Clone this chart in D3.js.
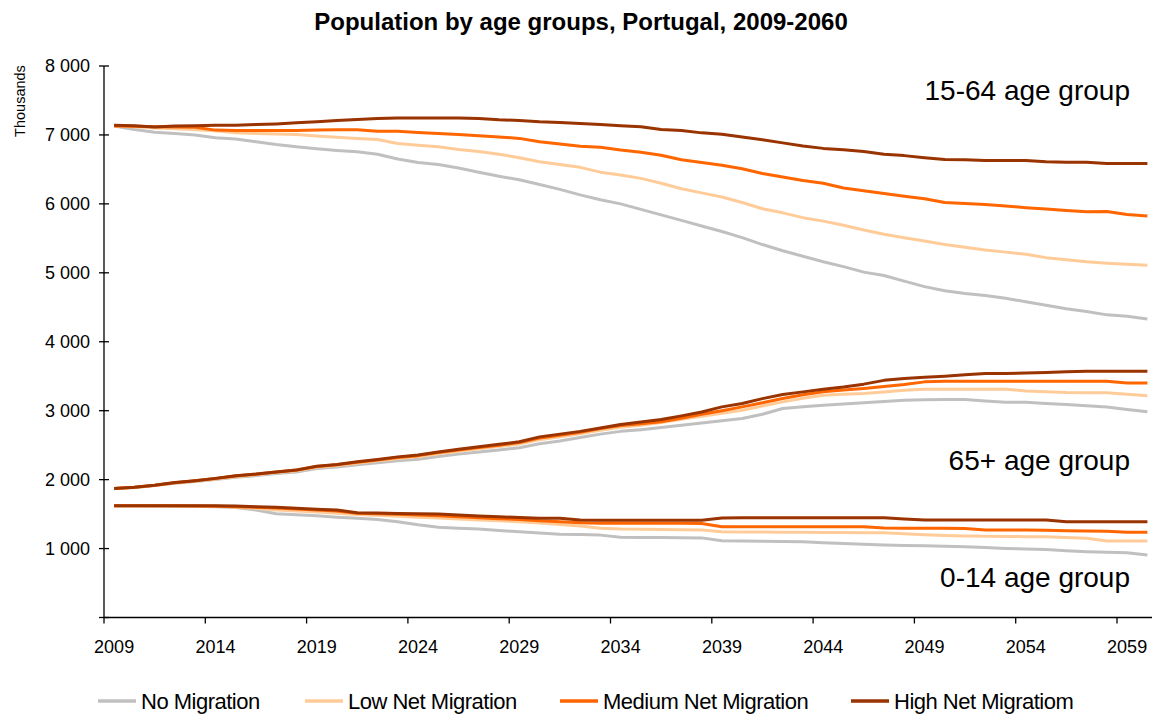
<!DOCTYPE html>
<html>
<head>
<meta charset="utf-8">
<script src="https://cdn.jsdelivr.net/npm/d3@7"></script>
<style>
  html, body { margin: 0; padding: 0; background: #fff; }
  svg { display: block; font-family: "Liberation Sans", Arial, sans-serif; }
</style>
</head>
<body>
<svg id="chart" width="1152" height="716"></svg>
<script>
// Projection years
const years = d3.range(2009, 2061);

// Scenarios (legend order) and their colours
const scenarios = ["No Migration", "Low Net Migration", "Medium Net Migration", "High Net Migratiom"];
const scenarioColors = ["#c0c0c0", "#ffcc99", "#ff6600", "#993300"];

// Age-group labels
const groupLabels = ["15-64 age group", "65+ age group", "0-14 age group"];

// Y-axis ticks (thousands)
const yTicks = [0, 1000, 2000, 3000, 4000, 5000, 6000, 7000, 8000];

// ---- 15-64 age group (thousands) ----
const noMig1564 = [7130,7080,7040,7020,7000,6960,6940,6900,6860,6830,6800,6775,6755,6720,6650,6600,6570,6520,6460,6400,6350,6280,6210,6130,6060,6000,5920,5840,5760,5680,5600,5510,5410,5320,5240,5160,5090,5010,4960,4880,4800,4740,4700,4670,4630,4580,4530,4480,4440,4390,4370,4330];
const lowMig1564 = [7130,7120,7100,7090,7075,7060,7030,7020,7015,7005,6985,6965,6950,6935,6875,6850,6830,6790,6760,6720,6670,6610,6570,6530,6460,6420,6370,6300,6220,6160,6100,6020,5930,5870,5800,5750,5690,5620,5560,5510,5460,5410,5370,5330,5300,5270,5220,5190,5160,5140,5125,5110];
const medMig1564 = [7130,7125,7120,7115,7110,7070,7065,7065,7065,7065,7070,7075,7075,7055,7055,7035,7020,7005,6990,6970,6950,6900,6870,6835,6820,6780,6750,6705,6640,6600,6560,6510,6440,6390,6340,6300,6230,6190,6150,6110,6075,6020,6005,5990,5970,5945,5925,5905,5885,5890,5845,5825];
const highMig1564 = [7140,7135,7115,7130,7135,7140,7140,7150,7160,7175,7190,7210,7225,7240,7245,7245,7245,7245,7240,7220,7210,7190,7180,7165,7150,7135,7120,7080,7065,7030,7010,6970,6930,6885,6840,6805,6785,6760,6720,6700,6670,6645,6640,6630,6630,6630,6610,6605,6605,6585,6585,6585];

// ---- 65+ age group (thousands) ----
const noMig65 = [1872,1886,1914,1948,1973,2002,2035,2058,2087,2112,2160,2182,2214,2243,2275,2297,2337,2370,2400,2430,2462,2520,2560,2610,2660,2700,2725,2756,2790,2823,2855,2887,2949,3032,3056,3080,3097,3114,3133,3152,3160,3162,3162,3142,3123,3123,3106,3090,3072,3055,3017,2983];
const lowMig65 = [1872,1887,1916,1952,1979,2010,2046,2072,2103,2130,2180,2205,2240,2272,2307,2332,2375,2412,2446,2480,2515,2580,2620,2665,2717,2760,2790,2830,2875,2920,2962,3007,3068,3128,3180,3225,3238,3249,3272,3297,3312,3312,3312,3312,3312,3287,3275,3264,3262,3260,3240,3215];
const medMig65 = [1872,1888,1918,1955,1982,2015,2052,2078,2110,2138,2190,2215,2252,2286,2322,2348,2392,2430,2465,2500,2538,2605,2645,2688,2742,2785,2810,2838,2890,2949,3000,3055,3115,3177,3230,3273,3300,3322,3350,3380,3418,3428,3428,3428,3428,3428,3428,3428,3428,3428,3403,3403];
const highMig65 = [1872,1890,1920,1958,1985,2018,2055,2080,2112,2140,2195,2220,2258,2292,2330,2356,2402,2442,2476,2512,2550,2620,2660,2700,2750,2800,2835,2872,2925,2980,3055,3105,3175,3235,3273,3312,3345,3385,3440,3466,3485,3500,3520,3539,3540,3545,3555,3565,3572,3572,3572,3572];

// ---- 0-14 age group (thousands) ----
const noMig014 = [1620,1620,1618,1615,1612,1605,1595,1560,1505,1490,1475,1455,1440,1420,1390,1345,1310,1295,1283,1262,1245,1225,1208,1205,1195,1165,1162,1160,1158,1155,1112,1108,1105,1102,1098,1085,1075,1062,1052,1046,1040,1033,1026,1014,1002,995,988,970,955,946,938,906];
const lowMig014 = [1620,1620,1620,1618,1616,1612,1600,1585,1560,1545,1530,1512,1495,1482,1470,1455,1443,1430,1415,1402,1389,1370,1350,1326,1295,1283,1280,1276,1272,1268,1244,1242,1240,1238,1236,1234,1232,1230,1229,1215,1200,1190,1181,1178,1175,1173,1171,1160,1148,1109,1109,1109];
const medMig014 = [1620,1620,1620,1620,1618,1615,1608,1600,1590,1575,1560,1545,1512,1505,1497,1487,1477,1462,1447,1434,1423,1402,1388,1374,1366,1366,1366,1366,1366,1364,1316,1316,1316,1316,1316,1316,1316,1315,1300,1293,1293,1293,1292,1268,1268,1268,1266,1258,1256,1250,1235,1235];
const highMig014 = [1622,1622,1622,1622,1622,1620,1618,1608,1598,1584,1572,1558,1520,1515,1510,1505,1500,1486,1472,1460,1452,1440,1440,1413,1410,1410,1410,1410,1410,1412,1445,1446,1446,1446,1446,1446,1446,1446,1446,1430,1413,1413,1413,1413,1413,1413,1413,1390,1390,1390,1390,1390];

// Series grouped by scenario; drawn grey first, dark brown last
const seriesByScenario = [
  [noMig1564, noMig65, noMig014],
  [lowMig1564, lowMig65, lowMig014],
  [medMig1564, medMig65, medMig014],
  [highMig1564, highMig65, highMig014]
];

const svg = d3.select("#chart");

const plotLeft = 104, plotTop = 66, plotBottom = 617.5;
const bandWidth = 20.26;

const x = d3.scaleBand()
  .domain(years)
  .range([plotLeft, plotLeft + bandWidth * years.length])
  .paddingInner(0).paddingOuter(0);

const y = d3.scaleLinear().domain([0, 8000]).range([plotBottom, plotTop]);

const fmt = v => d3.format(",")(v).replace(/,/g, " ");

// Title
svg.append("text")
  .attr("x", 581).attr("y", 30)
  .attr("text-anchor", "middle")
  .attr("font-size", 24).attr("font-weight", "bold")
  .attr("fill", "#000")
  .text("Population by age groups, Portugal, 2009-2060");

// Y axis unit label
svg.append("text")
  .attr("transform", "translate(25,101) rotate(-90)")
  .attr("text-anchor", "middle")
  .attr("font-size", 14.5)
  .attr("fill", "#000")
  .text("Thousands");

// Y axis
const yAxis = svg.append("g");
yAxis.append("line")
  .attr("x1", plotLeft).attr("x2", plotLeft)
  .attr("y1", y(8000)).attr("y2", plotBottom)
  .attr("stroke", "#000").attr("stroke-width", 1.3);
yAxis.selectAll("line.tick").data(yTicks).join("line")
  .attr("class", "tick")
  .attr("x1", plotLeft - 5).attr("x2", plotLeft + 5)
  .attr("y1", d => y(d)).attr("y2", d => y(d))
  .attr("stroke", "#000").attr("stroke-width", 1.3);
yAxis.selectAll("text").data(yTicks.filter(d => d > 0)).join("text")
  .attr("x", 90).attr("y", d => y(d))
  .attr("dy", "0.36em")
  .attr("text-anchor", "end")
  .attr("font-size", 18)
  .attr("fill", "#000")
  .text(fmt);

// X axis
const xAxis = svg.append("g");
xAxis.append("line")
  .attr("x1", plotLeft).attr("x2", plotLeft + bandWidth * years.length)
  .attr("y1", plotBottom).attr("y2", plotBottom)
  .attr("stroke", "#000").attr("stroke-width", 1.3);
const labelYears = years.filter(d => (d - 2009) % 5 === 0);
xAxis.selectAll("line.tick").data(labelYears).join("line")
  .attr("class", "tick")
  .attr("x1", d => x(d)).attr("x2", d => x(d))
  .attr("y1", plotBottom).attr("y2", plotBottom + 6)
  .attr("stroke", "#000").attr("stroke-width", 1.3);
xAxis.selectAll("text").data(labelYears).join("text")
  .attr("x", d => x(d) + x.bandwidth() / 2)
  .attr("y", 652.5)
  .attr("text-anchor", "middle")
  .attr("font-size", 18)
  .attr("fill", "#000")
  .text(d => d);

// Lines
const line = d3.line()
  .x((d, i) => x(years[i]) + x.bandwidth() / 2)
  .y(d => y(d));

const lines = svg.append("g").attr("fill", "none");
seriesByScenario.forEach((groups, si) => {
  groups.forEach(values => {
    lines.append("path")
      .datum(values)
      .attr("d", line)
      .attr("stroke", scenarioColors[si])
      .attr("stroke-width", 3)
      .attr("stroke-linejoin", "round")
      .attr("stroke-linecap", "butt");
  });
});

// Age-group annotations
const groupLabelY = [100, 470, 587];
svg.append("g").selectAll("text").data(groupLabels).join("text")
  .attr("x", 1130)
  .attr("y", (d, i) => groupLabelY[i])
  .attr("text-anchor", "end")
  .attr("font-size", 28)
  .attr("fill", "#000")
  .text(d => d);

// Legend
const legendLineX = [98, 305, 560, 851];
const legend = svg.append("g");
scenarios.forEach((name, i) => {
  legend.append("line")
    .attr("x1", legendLineX[i]).attr("x2", legendLineX[i] + 38)
    .attr("y1", 701).attr("y2", 701)
    .attr("stroke", scenarioColors[i]).attr("stroke-width", 3.6);
  legend.append("text")
    .attr("x", legendLineX[i] + 43).attr("y", 708.5)
    .attr("font-size", 22)
    .attr("letter-spacing", "-0.5")
    .attr("fill", "#000")
    .text(name);
});
</script>
</body>
</html>
